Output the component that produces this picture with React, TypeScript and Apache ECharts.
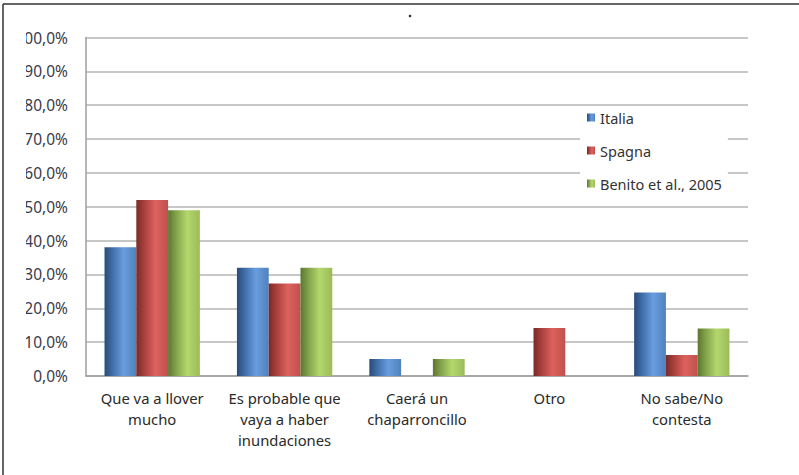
import React, { useEffect, useRef } from "react";
import * as echarts from "echarts";

const categories = [
  "Que va a llover\nmucho",
  "Es probable que\nvaya a haber\ninundaciones",
  "Caerá un\nchaparroncillo",
  "Otro",
  "No sabe/No\ncontesta",
];
const seriesNames = ["Italia", "Spagna", "Benito et al., 2005"];
const italia = [38, 32, 5, 0, 24.7];
const spagna = [52, 27.3, 0, 14.2, 6.2];
const benito = [49, 32, 5, 0, 14];
const yTicks = { min: 0, max: 100, interval: 10 };

const grad = (dark: string, mid: string, light: string, base: string) => ({
  type: "linear",
  x: 0,
  y: 0,
  x2: 1,
  y2: 0,
  colorStops: [
    { offset: 0, color: dark },
    { offset: 0.25, color: mid },
    { offset: 0.6, color: light },
    { offset: 1, color: base },
  ],
});

const FONT = "Noto Sans";

export default function App() {
  const ref = useRef<HTMLDivElement>(null);
  useEffect(() => {
    if (!ref.current) return;
    const chart = echarts.init(ref.current, null, { renderer: "svg" });
    const mk = (name: string, data: number[], color: string, g: any) => ({
      name,
      type: "bar",
      data,
      barGap: "0%",
      barCategoryGap: "28%",
      itemStyle: { color: g },
      color,
    });
    chart.setOption({
      animation: false,
      backgroundColor: "#fff",
      textStyle: { fontFamily: FONT },
      grid: { left: 86, right: 51, top: 37.5, bottom: 99, containLabel: false },
      legend: {
        orient: "vertical",
        left: 580,
        top: 106,
        padding: [3, 6, 14, 7],
        backgroundColor: "#fff",
        itemWidth: 8,
        itemHeight: 8,
        itemGap: 16,
        icon: "rect",
        data: seriesNames,
        textStyle: { fontFamily: FONT, fontSize: 14.5, color: "#333", lineHeight: 17 },
        z: 5,
      },
      xAxis: {
        type: "category",
        data: categories,
        axisLine: { show: true, lineStyle: { color: "#9e9e9e", width: 1.5 } },
        axisTick: { show: false },
        axisLabel: {
          interval: 0,
          fontFamily: FONT,
          fontSize: 14.8,
          color: "#2a2a2a",
          lineHeight: 21,
          margin: 11,
        },
      },
      yAxis: {
        type: "value",
        min: yTicks.min,
        max: yTicks.max,
        interval: yTicks.interval,
        axisLine: { show: true, lineStyle: { color: "#9e9e9e", width: 1.5 } },
        axisTick: { show: false },
        splitLine: { lineStyle: { color: "#b4b4b4", width: 1.5 } },
        axisLabel: {
          fontFamily: FONT,
          fontSize: 15.5,
          color: "#3a3a4a",
          margin: 18,
          formatter: (v: number) => v.toFixed(1).replace(".", ",") + "%",
        },
      },
      series: [
        mk(seriesNames[0], italia, "#4F81BD", grad("#2a4a78", "#3f6ea8", "#6a9ddf", "#4f81bd")),
        mk(seriesNames[1], spagna, "#C0504D", grad("#7a2a28", "#a8403d", "#dc625e", "#c0504d")),
        mk(seriesNames[2], benito, "#9BBB59", grad("#5c7630", "#83a24a", "#b4d76d", "#9bbb59")),
      ],
      graphic: {
        elements: [
          { type: "rect", shape: { x: 5, y: 20, width: 21, height: 380 }, style: { fill: "#fff" }, z: 100 },
          { type: "line", shape: { x1: 3, y1: 4, x2: 799, y2: 4 }, style: { stroke: "#333", lineWidth: 1.5 }, z: 101 },
          { type: "line", shape: { x1: 3, y1: 4, x2: 3, y2: 475 }, style: { stroke: "#333", lineWidth: 1.5 }, z: 101 },
          { type: "circle", shape: { cx: 410, cy: 16, r: 1.3 }, style: { fill: "#333" }, z: 101 },
        ],
      },
    });
    return () => chart.dispose();
  }, []);
  return <div ref={ref} style={{ width: 799, height: 475, position: "absolute", left: 0, top: 0 }} />;
}
